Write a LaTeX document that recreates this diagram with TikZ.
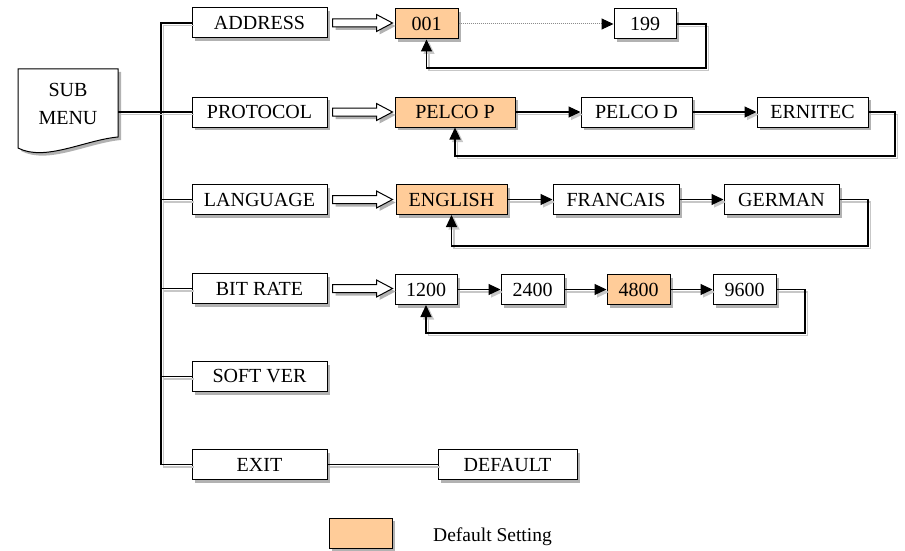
\documentclass[tikz,border=0pt]{standalone}
\usepackage{fontspec}
\setmainfont{Liberation Serif}
\usetikzlibrary{arrows.meta,shadows,calc}
\definecolor{orng}{HTML}{FFCC99}
\begin{document}
\begin{tikzpicture}[x=1pt,y=-1pt,
  every node/.style={font=\fontsize{20}{24}\selectfont},
  sh/.style={drop shadow={shadow xshift=3pt,shadow yshift=-3pt,fill=black!30,opacity=1}},
  box/.style={draw, line width=1pt, fill=white, minimum height=30pt, inner sep=0pt, sh},
  dfl/.style={box, fill=orng},
  ln/.style={line width=1.1pt, preaction={draw=black!22, line width=1.1pt, transform canvas={shift={(2.5pt,-2.5pt)}}}},
  arr/.style={ln, -{Triangle[length=12pt,width=11pt]}},
  hol/.style={draw, line width=1pt, fill=white, sh},
]
\useasboundingbox (0,0) rectangle (905,551);

% SUB MENU document shape
\draw[line width=1pt, fill=white, sh] (18,69) -- (118,69) -- (118,137) .. controls (85,140) and (45,162) .. (18,148) -- cycle;
\node[align=center, font=\fontsize{20}{28}\selectfont, minimum width=100pt, inner sep=0pt] (sub) at (68,104) {SUB\\MENU};

% left column
\node[box,minimum width=135pt] (addr) at (259.5,23) {ADDRESS};
\node[box,minimum width=135pt] (prot) at (259.5,112) {PROTOCOL};
\node[box,minimum width=135pt] (lang) at (259.5,199.5) {LANGUAGE};
\node[box,minimum width=135pt] (bitr) at (259.5,288.5) {BIT RATE};
\node[box,minimum width=135pt] (soft) at (259.5,376.5) {SOFT VER};
\node[box,minimum width=135pt] (exit) at (259.5,464.5) {EXIT};
\node[box,minimum width=139pt] (dflt) at (507.5,464.5) {DEFAULT};

% row 1
\node[dfl,minimum width=63pt] (n001) at (426.5,24) {001};
\node[box,minimum width=62pt] (n199) at (645,24) {199};
% row 2
\node[dfl,minimum width=120pt] (pp) at (455,112) {PELCO P};
\node[box,minimum width=111pt] (pd) at (636.5,112) {PELCO D};
\node[box,minimum width=111pt] (ern) at (812.5,112) {ERNITEC};
% row 3
\node[dfl,minimum width=111pt] (eng) at (451.5,199.5) {ENGLISH};
\node[box,minimum width=126pt] (fra) at (616,199.5) {FRANCAIS};
\node[box,minimum width=115pt] (ger) at (781.5,199.5) {GERMAN};
% row 4
\node[box,minimum width=62pt] (b12) at (426,289.5) {1200};
\node[box,minimum width=63pt] (b24) at (532.5,289.5) {2400};
\node[dfl,minimum width=63pt] (b48) at (638.5,289.5) {4800};
\node[box,minimum width=63pt] (b96) at (744.5,289.5) {9600};

% legend
\node[dfl,minimum width=63pt] (leg) at (360.5,533) {};
\node[anchor=west, inner sep=0pt, font=\fontsize{19.5}{24}\selectfont] (legt) at (433,537) {Default Setting};

% tree
\coordinate (bt) at (161,23);
\coordinate (bb) at (161,464.5);
\draw[ln] (addr.west) -- (bt) -- (bb) -- (exit.west);
\draw[ln] (sub.east |- prot.west) -- (prot.west);
\draw[ln] (bt |- lang.west) -- (lang.west);
\draw[ln] (bt |- bitr.west) -- (bitr.west);
\draw[ln] (bt |- soft.west) -- (soft.west);
\draw[ln] (exit.east) -- (dflt.west);

% hollow arrows
\foreach \a in {addr,prot,lang,bitr}{
  \draw[hol] ([shift={(5,-4)}]\a.east) -- ++(44,0) -- ++(0,-4.5) -- ++(16,8.5) -- ++(-16,8.5) -- ++(0,-4.5) -- ++(-44,0) -- cycle;
}

% chains
\draw[line width=1pt, draw=black!45, densely dotted, -{Triangle[length=12pt,width=11pt,color=black]}] (n001.east) -- (n199.west);
\draw[arr] (pp.east) -- (pd.west);
\draw[arr] (pd.east) -- (ern.west);
\draw[arr] (eng.east) -- (fra.west);
\draw[arr] (fra.east) -- (ger.west);
\draw[arr] (b12.east) -- (b24.west);
\draw[arr] (b24.east) -- (b48.west);
\draw[arr] (b48.east) -- (b96.west);

% loops
\coordinate (l1) at (706,68);
\coordinate (l2) at (895,156);
\coordinate (l3) at (868,246);
\coordinate (l4) at (805,333);
\draw[arr] (n199.east) -| (l1) -| (n001.south);
\draw[arr] (ern.east) -| (l2) -| (pp.south);
\draw[arr] (ger.east) -| (l3) -| (eng.south);
\draw[arr] (b96.east) -| (l4) -| (b12.south);
\end{tikzpicture}
\end{document}
